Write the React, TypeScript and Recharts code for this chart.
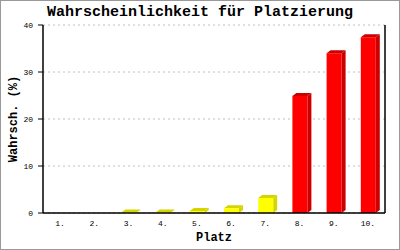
import { BarChart, Bar, XAxis, YAxis, CartesianGrid, Cell, Label } from "recharts";

const places = ["1.", "2.", "3.", "4.", "5.", "6.", "7.", "8.", "9.", "10."];
const probabilities = [0, 0, 0.1, 0.1, 0.4, 1.0, 3.2, 24.9, 34.0, 37.4];
const yTicks = [0, 10, 20, 30, 40];

const data = places.map((p, i) => ({ place: p, value: probabilities[i] }));

const font = "'Liberation Mono', 'DejaVu Sans Mono', monospace";

function isRed(i: number) {
  return i >= 7;
}

function Bar3D(props: any) {
  const { x, y, width, height, index, value } = props;
  if (!value) return null;
  const dx = 4;
  const dy = 3;
  const front = isRed(index) ? "#ff0000" : "#ffff00";
  const dark = isRed(index) ? "#cc0000" : "#d4d400";
  const h = Math.max(height, 0);
  return (
    <g>
      <polygon
        points={`${x},${y} ${x + width},${y} ${x + width + dx},${y - dy} ${x + dx},${y - dy}`}
        fill={dark}
      />
      <polygon
        points={`${x + width},${y} ${x + width + dx},${y - dy} ${x + width + dx},${y + h - dy} ${x + width},${y + h}`}
        fill={dark}
      />
      <rect x={x} y={y} width={width} height={h} fill={front} />
    </g>
  );
}

export default function App() {
  return (
    <div style={{ position: "absolute", left: 0, top: 0, width: 400, height: 250, background: "#fff" }}>
      <BarChart width={400} height={250} data={data} margin={{ top: 25, right: 0, left: 0, bottom: 0 }}>
        <CartesianGrid vertical={false} stroke="#c0c0c0" strokeDasharray="2 3" />
        <XAxis
          dataKey="place"
          height={37}
          tickLine={false}
          axisLine={{ stroke: "#000", strokeWidth: 1.5 }}
          tick={{ fill: "#000", fontSize: 8, fontFamily: font }}
          tickMargin={1}
          interval={0}
        >
          <Label
            value="Platz"
            position="insideBottom"
            offset={9}
            style={{ fill: "#000", fontSize: 12, fontWeight: "bold", fontFamily: font }}
          />
        </XAxis>
        <YAxis
          width={43}
          domain={[0, 40]}
          ticks={yTicks}
          tickSize={5}
          tickMargin={5}
          tickLine={{ stroke: "#000" }}
          axisLine={{ stroke: "#000", strokeWidth: 1.5 }}
          tick={{ fill: "#000", fontSize: 8, fontFamily: font }}
        >
          <Label
            value="Wahrsch. (%)"
            angle={-90}
            position="insideLeft"
            offset={13}
            style={{ fill: "#000", fontSize: 12, fontWeight: "bold", fontFamily: font, textAnchor: "middle" }}
          />
        </YAxis>
        <YAxis
          yAxisId="right"
          orientation="right"
          width={15}
          tick={false}
          tickLine={false}
          axisLine={{ stroke: "#000", strokeWidth: 1.5 }}
        />
        <Bar dataKey="value" barSize={15} shape={<Bar3D />} isAnimationActive={false}>
          {data.map((d, i) => (
            <Cell key={d.place} fill={isRed(i) ? "#ff0000" : "#ffff00"} />
          ))}
        </Bar>
      </BarChart>
      <div
        style={{
          position: "absolute",
          top: 5,
          left: 0,
          width: 400,
          textAlign: "center",
          fontFamily: font,
          fontSize: 15,
          fontWeight: "bold",
          lineHeight: "16px",
        }}
      >
        Wahrscheinlichkeit für Platzierung
      </div>
      <div
        style={{
          position: "absolute",
          left: 0,
          top: 0,
          width: 400,
          height: 250,
          boxSizing: "border-box",
          border: "1px solid #999",
          pointerEvents: "none",
        }}
      />
    </div>
  );
}
